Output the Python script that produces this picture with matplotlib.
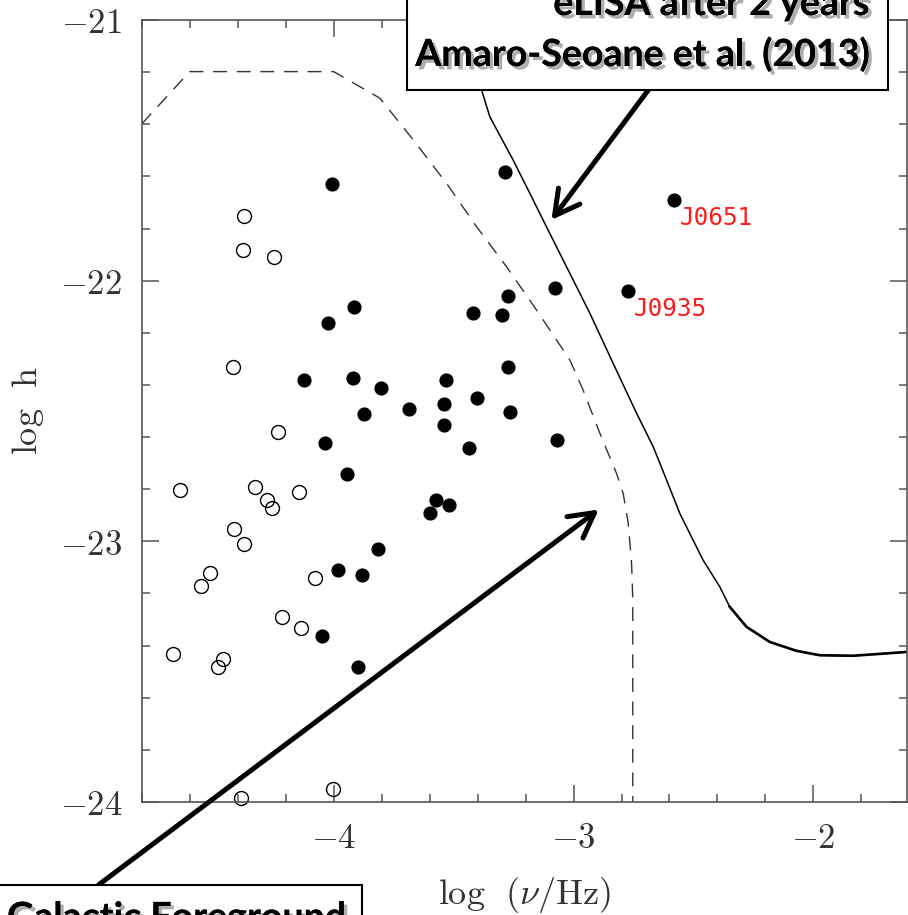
import matplotlib
matplotlib.use("Agg")
import matplotlib.pyplot as plt
import matplotlib.patheffects as pe
from matplotlib.patches import Rectangle
from matplotlib.ticker import MultipleLocator, FuncFormatter

plt.rcParams["mathtext.fontset"] = "cm"

# detached white dwarf binaries (filled) and AM CVn / interacting systems (open)
det_x = [-4.008, -3.286, -2.582, -2.775, -3.078, -3.272, -3.915, -4.023, -3.421,
         -3.298, -3.275, -4.124, -3.918, -3.803, -3.532, -3.873, -3.686, -3.539,
         -3.402, -3.265, -3.539, -4.036, -3.070, -3.436, -3.943, -3.574, -3.520,
         -3.599, -3.815, -3.983, -3.882, -4.050, -3.900]
det_y = [-21.630, -21.582, -21.691, -22.040, -22.030, -22.059, -22.100, -22.162, -22.123,
         -22.132, -22.333, -22.381, -22.373, -22.413, -22.381, -22.512, -22.493, -22.472,
         -22.452, -22.502, -22.553, -22.622, -22.612, -22.641, -22.742, -22.841, -22.862,
         -22.893, -23.031, -23.111, -23.131, -23.363, -23.482]

amcvn_x = [-4.374, -4.379, -4.248, -4.421, -4.233, -4.642, -4.329, -4.279, -4.257,
           -4.146, -4.414, -4.374, -4.515, -4.553, -4.078, -4.214, -4.136, -4.670,
           -4.460, -4.481, -4.388, -4.002]
amcvn_y = [-21.752, -21.881, -21.911, -22.330, -22.582, -22.802, -22.792, -22.842, -22.873,
           -22.812, -22.952, -23.012, -23.123, -23.171, -23.140, -23.292, -23.332, -23.432,
           -23.452, -23.482, -23.983, -23.951]

named = ["J0651", "J0935"]
named_x = [-2.582, -2.775]
named_y = [-21.691, -22.040]

# galactic foreground confusion level
fg_x = [-4.80, -4.60, -4.00, -3.807, -3.668, -3.529, -3.404, -3.279, -3.154, -3.015,
        -2.960, -2.890, -2.821, -2.793, -2.772, -2.758, -2.753, -2.753]
fg_y = [-21.399, -21.198, -21.198, -21.300, -21.460, -21.627, -21.793, -21.947, -22.113,
        -22.305, -22.420, -22.586, -22.739, -22.816, -22.931, -23.085, -23.226, -24.0]

# eLISA 2-year sensitivity
sens_x = [-3.508, -3.383, -3.349, -3.252, -3.182, -3.113, -3.029, -2.932, -2.835, -2.737,
          -2.668, -2.612, -2.557, -2.460, -2.390, -2.349, -2.279, -2.182, -2.071, -1.974,
          -1.835, -1.696, -1.607]
sens_y = [-21.0, -21.269, -21.371, -21.537, -21.665, -21.793, -21.947, -22.125, -22.317,
          -22.509, -22.637, -22.765, -22.893, -23.072, -23.175, -23.251, -23.328, -23.386,
          -23.420, -23.437, -23.439, -23.430, -23.424]

W, H = 908, 915
fig = plt.figure(figsize=(W / 100, H / 100), dpi=100)
ax = fig.add_axes([141.7 / W, 1 - 802 / H, (907 - 141.7) / W, (802 - 20) / H])

gray = "#555555"
ax.plot(fg_x, fg_y, color="#333333", lw=1.0, dashes=(10, 7))
ax.plot(sens_x, sens_y, color="black", lw=1.1)
# the noisy high-frequency floor reads heavier
ax.plot(sens_x[15:], sens_y[15:], color="black", lw=1.9)
ax.plot(det_x, det_y, "o", ms=9.2, color="black", mec="black", ls="none")
ax.plot(amcvn_x, amcvn_y, "o", ms=10, mfc="none", mec="black", mew=1.0, ls="none",
        clip_on=False)
for name, x, y in zip(named, named_x, named_y):
    ax.annotate(name, (x, y), xytext=(6, -25), textcoords="offset pixels",
                color="#ff1a1a", fontsize=17.5, family="DejaVu Sans Mono",
                va="baseline", ha="left")

ax.set_xlim(-4.8, -1.61)
ax.set_ylim(-24, -21)
ax.xaxis.set_major_locator(MultipleLocator(1))
ax.xaxis.set_minor_locator(MultipleLocator(0.2))
ax.yaxis.set_major_locator(MultipleLocator(1))
ax.yaxis.set_minor_locator(MultipleLocator(0.2))
fmt = FuncFormatter(lambda v, _: f"${v:.0f}$")
ax.xaxis.set_major_formatter(fmt)
ax.yaxis.set_major_formatter(fmt)
ax.tick_params(which="both", direction="in", top=True, right=True,
               color=gray, width=1.1, labelcolor="#333333", labelsize=25)
ax.tick_params(which="major", length=12, pad=14)
ax.tick_params(which="minor", length=6)
for sp in ax.spines.values():
    sp.set_color(gray)
    sp.set_linewidth(1.2)

ax.set_xlabel(r"$\mathrm{log}\ \ (\nu/\mathrm{Hz})$", fontsize=26, color="#333333",
              labelpad=14)
ax.set_ylabel(r"$\mathrm{log}\ \ \mathrm{h}$", fontsize=26, color="#333333",
              labelpad=10)

# callout boxes
shadow = [pe.withSimplePatchShadow(offset=(2.5, -2.5), shadow_rgbFace="#777777",
                                   alpha=0.6), pe.Normal()]
box_font = dict(family=["Lato", "DejaVu Sans"], fontweight="bold", fontsize=27,
                color="black", path_effects=shadow)

fig.add_artist(Rectangle((407.3 / W, 1 - 90 / H), (888.3 - 407.3) / W, 0.2,
                         transform=fig.transFigure, facecolor="white",
                         edgecolor="black", lw=1.5, zorder=5))
fig.text(869 / W, 1 - 15 / H, "eLISA after 2 years", ha="right", va="baseline",
         zorder=6, **box_font)
fig.text(869 / W, 1 - 66 / H, "Amaro-Seoane et al. (2013)", ha="right",
         va="baseline", zorder=6, **box_font)

fig.add_artist(Rectangle((-0.02, 1 - 950 / H), 380 / W, 65 / H,
                         transform=fig.transFigure, facecolor="white",
                         edgecolor="black", lw=1.5, zorder=5))
fig.text(7 / W, 1 - 929 / H, "Galactic Foreground", ha="left", va="baseline",
         zorder=6, **box_font)

arrow = dict(arrowstyle="->,head_length=1.1,head_width=0.6", lw=3.6,
             color="black", shrinkA=0, shrinkB=0, mutation_scale=16)
ax.annotate("", xy=(-3.092, -21.767), xycoords="data",
            xytext=(648.3 / W, 1 - 90 / H), textcoords="figure fraction",
            arrowprops=arrow, annotation_clip=False)
ax.annotate("", xy=(-2.895, -22.878), xycoords="data",
            xytext=(98.3 / W, 1 - 885 / H), textcoords="figure fraction",
            arrowprops=arrow, annotation_clip=False)

fig.savefig("out.png", dpi=100)
